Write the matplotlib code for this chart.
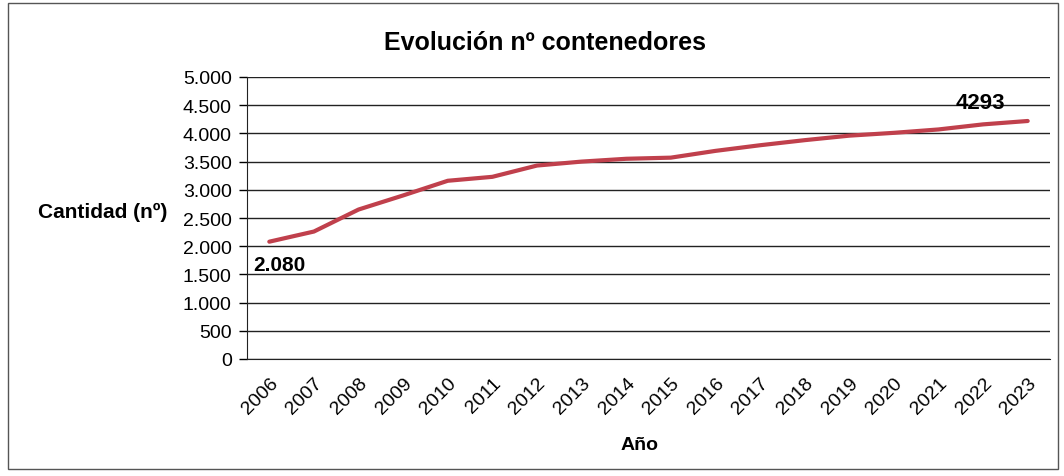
import matplotlib
matplotlib.use("Agg")
import matplotlib.pyplot as plt
from matplotlib.ticker import FuncFormatter

years = ["2006", "2007", "2008", "2009", "2010", "2011", "2012", "2013", "2014",
         "2015", "2016", "2017", "2018", "2019", "2020", "2021", "2022", "2023"]
values = [2080, 2260, 2650, 2900, 3160, 3230, 3430, 3500, 3550,
          3570, 3690, 3790, 3880, 3960, 4010, 4070, 4160, 4220]
first_label = "2.080"
last_label = "4293"

plt.rcParams['font.family'] = ['Liberation Sans', 'DejaVu Sans']

fig = plt.figure(figsize=(10.64, 4.77), dpi=100)
ax = fig.add_axes([247/1064, 1-360/477, (1050-247)/1064, (360-78)/477])

x = list(range(len(years)))
ax.plot(x, values, color='#c0404c', linewidth=3, solid_capstyle='round', zorder=3)

ax.set_xlim(-0.5, len(years)-0.5)
ax.set_ylim(0, 5000)
ax.set_yticks(range(0, 5001, 500))
ax.yaxis.set_major_formatter(FuncFormatter(lambda v, p: f"{int(v):,}".replace(",", ".")))
ax.set_xticks(x)
ax.set_xticklabels(years, rotation=45, ha='right', rotation_mode='anchor', fontsize=14)
ax.tick_params(axis='y', labelsize=14, length=6, width=1, direction='out', pad=5)
ax.tick_params(axis='x', length=0, pad=11)
ax.grid(axis='y', color='#222222', linewidth=1.0)
ax.set_axisbelow(True)
for s in ['top', 'right']:
    ax.spines[s].set_visible(False)
ax.spines['left'].set_color('#222222')
ax.spines['bottom'].set_color('#222222')

ax.annotate(first_label, (0, values[0]), xytext=(-11.5, -9.5), textcoords='offset points',
            ha='left', va='top', fontsize=15, fontweight='bold')
ax.annotate(last_label, (len(years)-1, values[-1]), xytext=(-16, 5.5), textcoords='offset points',
            ha='right', va='bottom', fontsize=16, fontweight='bold')

fig.text(545/1064, 1-43/477, "Evolución nº contenedores", ha='center', va='center',
         fontsize=18, fontweight='bold')
fig.text(103/1064, 1-212/477, "Cantidad (nº)", ha='center', va='center',
         fontsize=15, fontweight='bold')
fig.text(640/1064, 1-446/477, "Año", ha='center', va='center',
         fontsize=14, fontweight='bold')

border = plt.Rectangle((8/1064, 1-470/477), (1058-8)/1064, (470-4)/477,
                       transform=fig.transFigure, fill=False, edgecolor='#555555', linewidth=1)
fig.patches.append(border)

fig.savefig("out.png", dpi=100)
